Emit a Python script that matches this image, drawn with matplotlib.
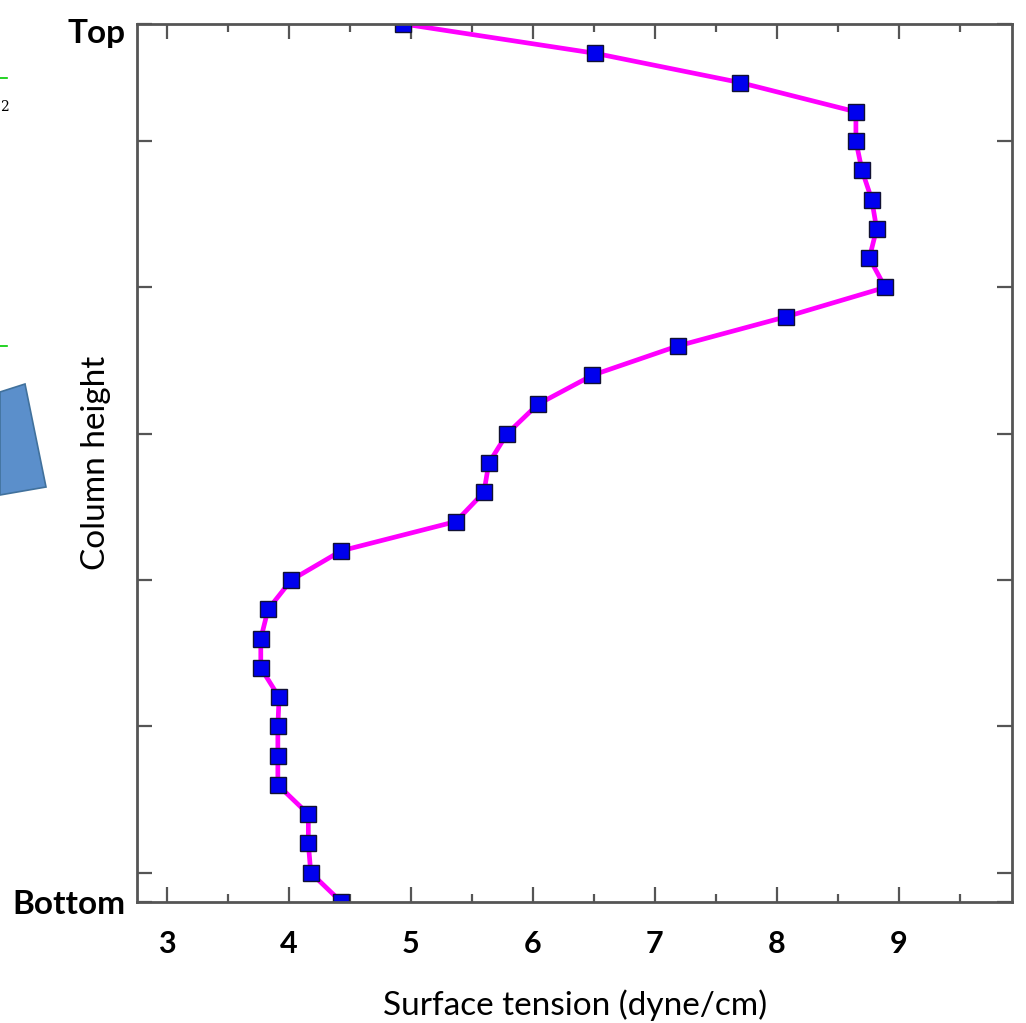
import matplotlib
matplotlib.use("Agg")
import matplotlib.pyplot as plt
import matplotlib.ticker as ticker
from matplotlib.patches import Polygon
from matplotlib.lines import Line2D

# 表面張力 (上から下へ)
tension = [
    4.94, 6.51, 7.70, 8.65, 8.65, 8.70, 8.78, 8.82, 8.76, 8.89,
    8.08, 7.19, 6.49, 6.04, 5.79, 5.64, 5.60, 5.37, 4.43, 4.02,
    3.83, 3.77, 3.77, 3.92, 3.91, 3.91, 3.91, 4.16, 4.16, 4.18,
    4.43,
]
# 高さ (Top=30, Bottom=0)
height = list(range(30, -1, -1))

ytick_pos = [0, 1, 6, 11, 16, 21, 26, 30]
ytick_lab = ["Bottom", "", "", "", "", "", "", ""]
xtick_pos = [3, 4, 5, 6, 7, 8, 9]

font = "Lato"
axis_col = "#555555"
W, H = 1026, 1023

fig = plt.figure(figsize=(W / 100, H / 100), dpi=100)
ax = fig.add_axes([137 / W, 1 - 902 / H, 875 / W, 878 / H])

ax.plot(tension, height, color="#ff00ff", lw=3.4, marker="s", ms=12,
        mfc="#0000ee", mec="#111133", mew=1.0)

ax.set_xlim(2.755, 9.93)
ax.set_ylim(0, 30)

ax.xaxis.set_major_locator(ticker.FixedLocator(xtick_pos))
ax.xaxis.set_minor_locator(ticker.MultipleLocator(0.5))
ax.set_yticks(ytick_pos)
ax.set_yticklabels(ytick_lab)

ax.tick_params(which="both", direction="in", top=True, right=True,
               color=axis_col, width=1.6)
ax.tick_params(which="major", length=11, labelsize=24)
ax.tick_params(which="minor", length=6)
ax.tick_params(axis="x", which="major", pad=20, labelsize=22)
ax.tick_params(axis="y", which="major", pad=8)
for lab in ax.get_xticklabels() + ax.get_yticklabels():
    lab.set_fontfamily(font)
    lab.set_fontweight("bold")
for s in ax.spines.values():
    s.set_color(axis_col)
    s.set_linewidth(2)

# "Top" は少し下にずらして置く
ax.annotate("Top", xy=(0, 30), xycoords=("axes fraction", "data"),
            xytext=(-8, -7), textcoords="offset points", ha="right",
            va="center", fontsize=24, family=font, fontweight="bold")

# 軸ラベル
fig.text(575 / W, 1 - 1005 / H, "Surface tension (dyne/cm)", fontsize=24,
         family=font, ha="center", va="center")
fig.text(96 / W, 1 - 463 / H, "Column height", fontsize=24, family=font,
         rotation=90, ha="center", va="center")

# 左端のスライドの切れ端
fig.patches.append(Polygon([(0, 1 - 392 / H), (25 / W, 1 - 384 / H),
                            (46 / W, 1 - 487 / H), (0, 1 - 495 / H)],
                           closed=True, transform=fig.transFigure,
                           facecolor="#5b8fcb", edgecolor="#41719c", lw=1.2))
fig.lines.append(Line2D([0, 7 / W], [1 - 78 / H] * 2, color="#00cc00",
                        lw=1.2, transform=fig.transFigure))
fig.lines.append(Line2D([0, 7 / W], [1 - 346 / H] * 2, color="#00cc00",
                        lw=1.2, transform=fig.transFigure))
fig.text(0, 1 - 107 / H, "2", fontsize=10, family="DejaVu Serif", va="center")

fig.savefig("out.png", dpi=100)
